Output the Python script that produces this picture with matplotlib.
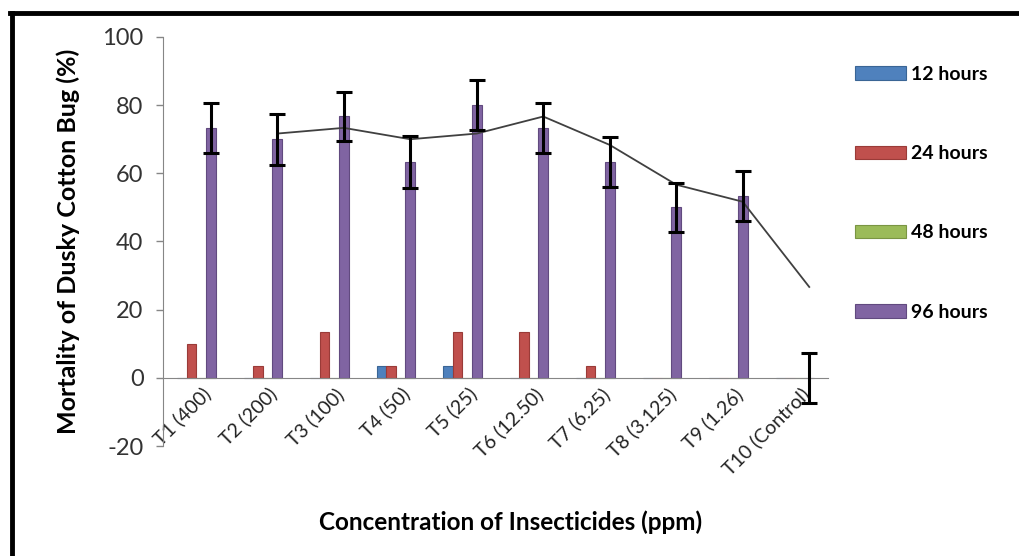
import numpy as np
import pandas as pd
import matplotlib
matplotlib.use("Agg")
from matplotlib import pyplot as plt
from matplotlib.lines import Line2D
from matplotlib.transforms import ScaledTranslation

plt.rcParams['font.family'] = ['Lato', 'DejaVu Sans']
plt.rcParams['axes.unicode_minus'] = False

# --- data ---
treatments = ["T1 (400)", "T2 (200)", "T3 (100)", "T4 (50)", "T5 (25)",
              "T6 (12.50)", "T7 (6.25)", "T8 (3.125)", "T9 (1.26)", "T10 (Control)"]
h12 = [0, 0, 0, 3.33, 3.33, 0, 0, 0, 0, 0]
h24 = [10, 3.33, 13.33, 3.33, 13.33, 13.33, 3.33, 0, 0, 0]
h48 = [0, 0, 0, 0, 0, 0, 0, 0, 0, 0]
h96 = [73.33, 70, 76.67, 63.33, 80, 73.33, 63.33, 50, 53.33, 0]
h96_err = [7.3, 7.5, 7.3, 7.5, 7.3, 7.3, 7.3, 7.3, 7.3, 7.3]

series = [("12 hours", h12, "#4F81BD", "#3A6595"),
          ("24 hours", h24, "#C0504D", "#9A3B38"),
          ("48 hours", h48, "#9BBB59", "#7A9543"),
          ("96 hours", h96, "#8064A2", "#614A7F")]

fig = plt.figure(figsize=(10.19, 5.56), dpi=100)
ax = fig.add_axes([0.16, 0.1978, 0.6526, 0.7357])

# spine placement first (it resets the ticks)
ax.spines['top'].set_visible(False)
ax.spines['right'].set_visible(False)
ax.spines['left'].set_color('#868686')
ax.spines['bottom'].set_color('#868686')
ax.spines['bottom'].set_position(('data', 0))

x = np.arange(len(treatments))
w = 0.145
offsets = [-1.5 * w, -0.5 * w, 0.5 * w, 1.5 * w]

for (name, vals, col, edge), off in zip(series, offsets):
    ax.bar(x + off, vals, width=w, color=col, edgecolor=edge, linewidth=0.8,
           label=name, zorder=2)

# error bars on the 96 hours series
ax.errorbar(x + offsets[3], h96, yerr=h96_err, fmt='none', ecolor='black',
            elinewidth=2.2, capsize=6, capthick=2.2, zorder=4)

# 2-period moving average trendline of the 96 hours series
trend = pd.Series(h96).rolling(2).mean()
ax.plot(x + offsets[3], trend, color='#404040', lw=1.3, zorder=3)

ax.set_xlim(-0.5, 9.5)
ax.set_ylim(-20, 100)
ax.set_yticks(range(-20, 101, 20))
ax.tick_params(axis='y', labelsize=17, labelcolor='#333333', color='#868686',
               length=5, width=1, pad=9)
ax.tick_params(axis='x', length=0, pad=5)
ax.set_xticks(x)
ax.set_xticklabels(treatments, fontsize=14, color='#222222', rotation=45,
                   ha='right', va='top', rotation_mode='anchor')
shift = ScaledTranslation(5 / 100, 0, fig.dpi_scale_trans)
for lbl in ax.get_xticklabels():
    lbl.set_transform(lbl.get_transform() + shift)

ax.set_ylabel("Mortality of Dusky Cotton Bug (%)", fontsize=18,
              fontweight='bold', labelpad=16)
fig.text(0.501, 0.06, "Concentration of Insecticides (ppm)", fontsize=17.5,
         fontweight='bold', ha='center', va='center')

leg = fig.legend(loc='upper left', bbox_to_anchor=(855 / 1019, 1 - 66 / 556),
                 frameon=False, prop={'weight': 'bold', 'size': 14},
                 handlelength=2.6, handleheight=0.7, handletextpad=0.3,
                 labelspacing=3.2, borderpad=0, borderaxespad=0)

# black frame lines (top and left) as in the source image
fig.add_artist(Line2D([10 / 1019, 1], [1 - 13 / 556] * 2, color='black',
                      lw=3.5, transform=fig.transFigure))
fig.add_artist(Line2D([12 / 1019] * 2, [0, 1 - 13 / 556], color='black',
                      lw=3.5, transform=fig.transFigure))

fig.savefig("out.png", dpi=100)
